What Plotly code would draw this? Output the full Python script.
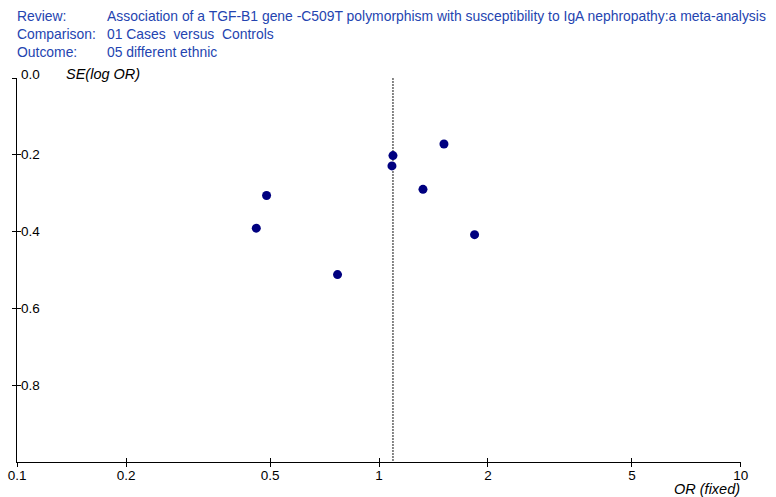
import plotly.graph_objects as go

# ---- data ----
odds_ratio = [0.489, 0.458, 0.768, 1.093, 1.086, 1.323, 1.512, 1.837]
se_log_or = [0.306, 0.391, 0.512, 0.202, 0.229, 0.290, 0.172, 0.408]
pooled_or = 1.093
x_tick_vals = [0.1, 0.2, 0.5, 1, 2, 5, 10]
x_tick_text = ["0.1", "0.2", "0.5", "1", "2", "5", "10"]
y_tick_vals = [0.0, 0.2, 0.4, 0.6, 0.8]
y_tick_text = ["0.0", "0.2", "0.4", "0.6", "0.8"]
header_labels = ["Review:", "Comparison:", "Outcome:"]
header_values = [
    "Association of a TGF-B1 gene -C509T polymorphism with susceptibility to IgA nephropathy:a meta-analysis",
    "01 Cases  versus  Controls",
    "05 different ethnic",
]
x_title = "OR (fixed)"
y_title = "SE(log OR)"

W, H = 776, 497
L, R, T, B = 17, 35, 78, 35
pw, ph = W - L - R, H - T - B

def px(x):
    return (x - L) / pw

def py(y):
    return (H - B - y) / ph

FONT = "Liberation Sans, Arial, sans-serif"
TXT = "#2444b0"

fig = go.Figure()

fig.add_trace(go.Scatter(
    x=[pooled_or, pooled_or], y=[0, 1.0], mode="lines",
    line=dict(color="#111111", width=1, dash="2px,1px"),
    hoverinfo="skip", showlegend=False))

fig.add_trace(go.Scatter(
    x=odds_ratio, y=se_log_or, mode="markers",
    marker=dict(color="#000080", size=9),
    showlegend=False))

# overlay axes for the inner half of the crossing ticks
fig.add_trace(go.Scatter(x=[pooled_or], y=[0.5], xaxis="x2", yaxis="y2",
                         mode="markers", marker=dict(opacity=0),
                         hoverinfo="skip", showlegend=False))

axis_common = dict(showgrid=False, zeroline=False, showline=True,
                   linecolor="black", linewidth=1, tickcolor="black",
                   tickwidth=1, ticklen=4, automargin=False)

xr = [-1.0004, 1.0004]
yr = [1.0, 0]

fig.update_layout(
    width=W, height=H,
    margin=dict(l=L, r=R, t=T, b=B, pad=0, autoexpand=False),
    paper_bgcolor="white", plot_bgcolor="white",
    font=dict(family=FONT, size=13, color="black"),
    xaxis=dict(type="log", range=xr, tickvals=x_tick_vals,
               ticktext=x_tick_text, ticks="outside", ticklabelstandoff=-3,
               tickfont=dict(size=13.5, color="black"), **axis_common),
    yaxis=dict(range=yr, tickvals=y_tick_vals, ticks="outside",
               showticklabels=False, **axis_common),
    xaxis2=dict(type="log", range=xr, tickvals=x_tick_vals,
                overlaying="x", side="bottom", ticks="inside",
                showticklabels=False, **axis_common),
    yaxis2=dict(range=yr, tickvals=y_tick_vals, overlaying="y",
                side="left", ticks="inside", showticklabels=False,
                **axis_common),
)

# y tick labels (to the right of the axis)
for v, t in zip(y_tick_vals, y_tick_text):
    fig.add_annotation(text=t, x=px(19), y=v, xref="paper", yref="y",
                       xanchor="left", yanchor="middle", showarrow=False,
                       yshift=4 if v == yr[1] else 0,
                       font=dict(family=FONT, size=13.5, color="black"))

rows_y = [16, 34, 52]
for lab, val, ry in zip(header_labels, header_values, rows_y):
    fig.add_annotation(text=lab, x=px(15), y=py(ry), xref="paper", yref="paper",
                       xanchor="left", yanchor="middle", showarrow=False,
                       font=dict(family=FONT, size=13.9, color=TXT))
    fig.add_annotation(text=val, x=px(105), y=py(ry), xref="paper", yref="paper",
                       xanchor="left", yanchor="middle", showarrow=False,
                       font=dict(family=FONT, size=13.9, color=TXT))

fig.add_annotation(text="<i>" + y_title + "</i>", x=px(64), y=py(74),
                   xref="paper", yref="paper", xanchor="left", yanchor="middle",
                   showarrow=False, font=dict(family=FONT, size=14.5, color="black"))
fig.add_annotation(text="<i>" + x_title + "</i>", x=px(742), y=py(489),
                   xref="paper", yref="paper", xanchor="right", yanchor="middle",
                   showarrow=False, font=dict(family=FONT, size=14.5, color="black"))

fig.write_html("out.html",
               config={"displayModeBar": False},
               post_script="document.body.style.margin='0px';document.body.style.overflow='hidden';")
